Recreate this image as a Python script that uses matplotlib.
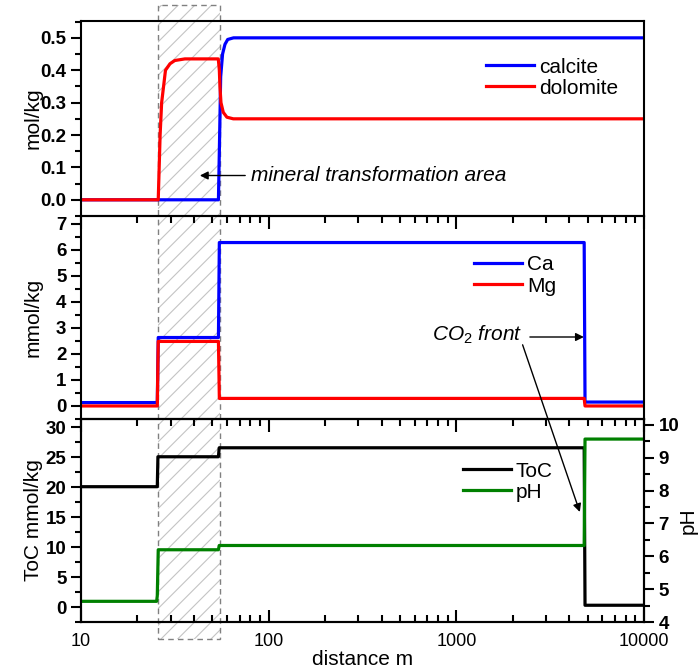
import matplotlib
matplotlib.use('Agg')
import matplotlib.pyplot as plt
from matplotlib.patches import Rectangle, ConnectionPatch
from matplotlib.ticker import MultipleLocator, LogLocator, NullFormatter
from matplotlib import transforms

plt.rcParams['font.family'] = ['Liberation Sans', 'DejaVu Sans']
plt.rcParams['mathtext.fontset'] = 'custom'
plt.rcParams['mathtext.rm'] = 'Liberation Sans'
plt.rcParams['mathtext.it'] = 'Liberation Sans:italic'
plt.rcParams['hatch.linewidth'] = 0.8
plt.rcParams['axes.linewidth'] = 1.5

# --- data ---
calcite_x = [10, 54.0, 54.8, 55.5, 56.8, 58.5, 60.5, 65, 10000]
calcite_y = [0, 0, 0.2, 0.38, 0.45, 0.48, 0.495, 0.5, 0.5]
dolomite_x = [10, 25.8, 26.1, 26.4, 26.9, 28.2, 29.8, 31.6, 35.8, 53.9, 54.6,
              55.0, 55.7, 57.3, 59.9, 64.8, 10000]
dolomite_y = [0, 0, 0.1, 0.2, 0.3, 0.4, 0.42, 0.43, 0.435, 0.435, 0.4,
              0.35, 0.3, 0.27, 0.255, 0.25, 0.25]

ca_x = [10, 25.5, 25.8, 54.0, 54.6, 4800, 4850, 10000]
ca_y = [0.13, 0.13, 2.63, 2.63, 6.28, 6.28, 0.15, 0.15]
mg_x = [10, 25.5, 25.8, 54.0, 54.6, 4800, 4850, 10000]
mg_y = [0, 0, 2.48, 2.48, 0.29, 0.29, 0.0, 0.0]

toc_x = [10, 25.5, 25.7, 54.0, 54.5, 4800, 4850, 10000]
toc_y = [20.1, 20.1, 25.1, 25.1, 26.6, 26.6, 0.3, 0.3]
ph_x = [10, 25.3, 25.5, 25.8, 54.0, 54.5, 4800, 4850, 10000]
ph_y = [4.63, 4.63, 4.8, 6.2, 6.2, 6.33, 6.33, 9.57, 9.57]

zone = (25.8, 55.0)   # mineral transformation area

lw = 2.3
fs = 15

fig = plt.figure(figsize=(7, 6.71), dpi=100)
ax1 = fig.add_axes([0.1157, 0.6781, 0.8043, 0.2906])
ax2 = fig.add_axes([0.1157, 0.3756, 0.8043, 0.3025], sharex=ax1)
ax3 = fig.add_axes([0.1157, 0.0730, 0.8043, 0.3025], sharex=ax1)
ax3b = ax3.twinx()

for ax in (ax1, ax2, ax3, ax3b):
    ax.set_facecolor('none')

ax1.plot(calcite_x, calcite_y, color='#0000ff', lw=lw, label='calcite')
ax1.plot(dolomite_x, dolomite_y, color='#ff0000', lw=lw, label='dolomite')
ax2.plot(ca_x, ca_y, color='#0000ff', lw=lw, label='Ca')
ax2.plot(mg_x, mg_y, color='#ff0000', lw=lw, label='Mg')
l1, = ax3.plot(toc_x, toc_y, color='black', lw=lw, label='ToC')
l2, = ax3b.plot(ph_x, ph_y, color='#008000', lw=lw, label='pH')

ax1.set_xscale('log')
ax1.set_xlim(10, 10000)
ax1.set_ylim(-0.05, 0.552)
ax2.set_ylim(-0.5, 7.3)
ax3.set_ylim(-2.5, 31.4)
ax3b.set_ylim(4, 10.18)

ax1.yaxis.set_major_locator(MultipleLocator(0.1))
ax1.yaxis.set_minor_locator(MultipleLocator(0.05))
ax1.yaxis.set_major_formatter(plt.FormatStrFormatter('%.1f'))
ax2.yaxis.set_major_locator(MultipleLocator(1))
ax2.yaxis.set_minor_locator(MultipleLocator(0.5))
ax3.yaxis.set_major_locator(MultipleLocator(5))
ax3.yaxis.set_minor_locator(MultipleLocator(2.5))
ax3b.yaxis.set_major_locator(MultipleLocator(1))
ax3b.yaxis.set_minor_locator(MultipleLocator(0.5))

ax3.xaxis.set_major_locator(LogLocator(base=10))
ax3.xaxis.set_minor_locator(LogLocator(base=10, subs=range(2, 10)))
ax3.xaxis.set_minor_formatter(NullFormatter())
ax3.set_xticks([10, 100, 1000, 10000])
ax3.set_xticklabels(['10', '100', '1000', '10000'])

# ticks
for ax in (ax1, ax2, ax3):
    ax.tick_params(axis='y', which='major', direction='out', length=7, width=1.5,
                   labelsize=13.5, right=False)
    ax.tick_params(axis='y', which='minor', direction='out', length=4, width=1.5, right=False)
    for t in ax.get_yticklabels():
        t.set_fontweight('bold')
ax3b.tick_params(axis='y', which='major', direction='out', length=7, width=1.5, labelsize=13.5)
ax3b.tick_params(axis='y', which='minor', direction='out', length=4, width=1.5)
for t in ax3b.get_yticklabels():
    t.set_fontweight('bold')

ax1.tick_params(axis='x', which='both', top=False, bottom=False, labelbottom=False)
ax2.tick_params(axis='x', which='both', top=True, bottom=False, labelbottom=False,
                direction='in', width=1.5)
ax3.tick_params(axis='x', which='both', top=True, bottom=True, direction='in', width=1.5,
                labelsize=13, pad=8)
ax2.tick_params(axis='x', which='major', length=9)
ax2.tick_params(axis='x', which='minor', length=5)
ax3.tick_params(axis='x', which='major', length=9)
ax3.tick_params(axis='x', which='minor', length=5)

ax1.set_ylabel('mol/kg', fontsize=fs)
ax2.set_ylabel('mmol/kg', fontsize=fs)
ax3.set_ylabel('ToC mmol/kg', fontsize=fs)
ax3b.set_ylabel('pH', fontsize=fs)
ax3.set_xlabel('distance m', fontsize=fs, labelpad=0)
for ax in (ax1, ax2, ax3):
    ax.yaxis.set_label_coords(-0.068, 0.5)
ax3b.yaxis.set_label_coords(1.062, 0.5)

legkw = dict(frameon=False, fontsize=fs, loc='center left', borderpad=0, borderaxespad=0,
             handlelength=2.3, handletextpad=0.25, labelspacing=0.1)
ax1.legend(bbox_to_anchor=(0.72, 0.71), **legkw)
ax2.legend(bbox_to_anchor=(0.698, 0.707), **legkw)
ax3b.legend(handles=[l1, l2], bbox_to_anchor=(0.678, 0.692), **legkw)

# hatched zone spanning all panels
tr = transforms.blended_transform_factory(ax3.transData, fig.transFigure)
y0, y1 = 0.0477, 0.9925
hatch = Rectangle((zone[0], y0), zone[1] - zone[0], y1 - y0, transform=tr,
                  facecolor='none', edgecolor='#c4c4c4', hatch='//', lw=0, zorder=-2)
edge = Rectangle((zone[0], y0), zone[1] - zone[0], y1 - y0, transform=tr,
                 facecolor='none', edgecolor='#808080', lw=1, linestyle=(0, (4, 3)), zorder=-1)
fig.add_artist(hatch)
fig.add_artist(edge)

# annotations
ax1.annotate('', xy=(43, 0.075), xytext=(75, 0.075),
             arrowprops=dict(arrowstyle='-|>', color='black', lw=1, shrinkA=0, shrinkB=0,
                             mutation_scale=12))
ax1.text(81, 0.074, 'mineral transformation area', fontsize=fs, fontstyle='italic',
         ha='left', va='center')

ax2.text(2265, 2.72, 'CO$_2$ front', fontsize=fs, fontstyle='italic', ha='right', va='center')
ax2.annotate('', xy=(4780, 2.65), xytext=(2466, 2.65),
             arrowprops=dict(arrowstyle='-|>', color='black', lw=1, shrinkA=0, shrinkB=0,
                             mutation_scale=12))
con = ConnectionPatch(xyA=(2255, 2.35), coordsA=ax2.transData,
                      xyB=(4550, 7.35), coordsB=ax3b.transData,
                      arrowstyle='-|>', color='black', lw=1, mutation_scale=12,
                      shrinkA=0, shrinkB=0)
fig.add_artist(con)

fig.savefig('out.png', dpi=100, facecolor='white')
